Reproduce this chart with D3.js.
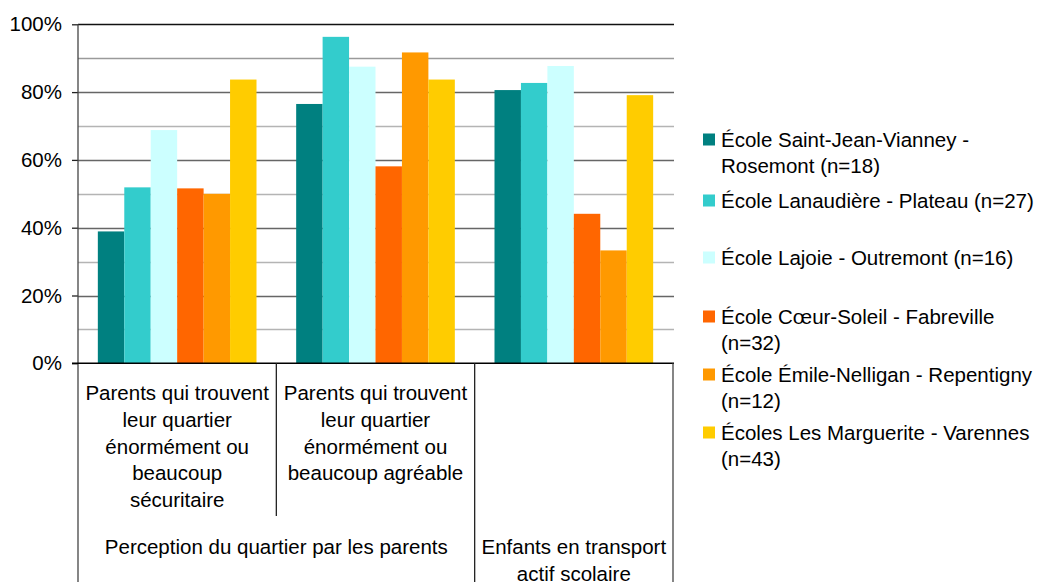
<!DOCTYPE html>
<html>
<head>
<meta charset="utf-8">
<script src="https://cdn.jsdelivr.net/npm/d3@7"></script>
<style>
  html, body { margin: 0; padding: 0; background: #fff; }
  svg { display: block; }
  text { font-family: "Liberation Sans", Arial, sans-serif; fill: #000; }
</style>
</head>
<body>
<svg id="chart" width="1042" height="582"></svg>
<script>
// Schools (series) and their legend text, wrapped as displayed
const schools = [
  "École Saint-Jean-Vianney - Rosemont (n=18)",
  "École Lanaudière - Plateau (n=27)",
  "École Lajoie - Outremont (n=16)",
  "École Cœur-Soleil - Fabreville (n=32)",
  "École Émile-Nelligan - Repentigny (n=12)",
  "Écoles Les Marguerite - Varennes (n=43)"
];
const legendLines = [
  ["École Saint-Jean-Vianney -", "Rosemont (n=18)"],
  ["École Lanaudière - Plateau (n=27)"],
  ["École Lajoie - Outremont (n=16)"],
  ["École Cœur-Soleil - Fabreville", "(n=32)"],
  ["École Émile-Nelligan - Repentigny", "(n=12)"],
  ["Écoles Les Marguerite - Varennes", "(n=43)"]
];
const colors = ["#008080", "#33CCCC", "#CCFFFF", "#FF6600", "#FF9900", "#FFCC00"];

// Categories on the x axis
const categories = ["securitaire", "agreable", "transport"];
const categoryLines = [
  ["Parents qui trouvent", "leur quartier", "énormément ou", "beaucoup", "sécuritaire"],
  ["Parents qui trouvent", "leur quartier", "énormément ou", "beaucoup agréable"],
  []
];
// Second-level grouping of the categories
const groupLines = [
  ["Perception du quartier par les parents"],
  ["Enfants en transport", "actif scolaire"]
];
const groupSpans = [[0, 1], [2, 2]];

// Share of respondents (0–1), one array per category, in school order
const securitaire = [0.389, 0.519, 0.688, 0.516, 0.500, 0.837];
const agreable    = [0.765, 0.963, 0.875, 0.581, 0.917, 0.837];
const transport   = [0.806, 0.827, 0.877, 0.441, 0.333, 0.791];
const seriesByCategory = [securitaire, agreable, transport];

const yTicks = [0, 0.2, 0.4, 0.6, 0.8, 1.0];
const yMinor = [0.1, 0.3, 0.5, 0.7, 0.9];

const svg = d3.select("#chart");
const plot = { left: 78, right: 673, top: 24.3, bottom: 363.3 };
const FS = 20.5;

const x0 = d3.scaleBand().domain(categories).range([plot.left, plot.right]).padding(0);
const x1 = d3.scaleBand().domain(d3.range(schools.length))
  .range([0, x0.bandwidth()]).paddingInner(0).paddingOuter(0.75);
const y = d3.scaleLinear().domain([0, 1]).range([plot.bottom, plot.top]);

// Minor gridlines
svg.append("g").selectAll("line").data(yMinor).join("line")
  .attr("x1", plot.left).attr("x2", plot.right + 1)
  .attr("y1", d => Math.round(y(d)) + 0.5).attr("y2", d => Math.round(y(d)) + 0.5)
  .attr("stroke", d => d === 0.9 ? "#9a9a9a" : "#b4b4b4").attr("stroke-width", 1.3);

// Major gridlines
svg.append("g").selectAll("line").data(yTicks.filter(d => d > 0)).join("line")
  .attr("x1", plot.left).attr("x2", plot.right + 1)
  .attr("y1", d => Math.round(y(d)) + 0.5).attr("y2", d => Math.round(y(d)) + 0.5)
  .attr("stroke", d => d === 1 ? "#111" : "#666").attr("stroke-width", 1.3);

// Bars
const groups = svg.append("g").selectAll("g").data(categories).join("g")
  .attr("transform", d => `translate(${x0(d)},0)`);
groups.selectAll("rect")
  .data((d, i) => seriesByCategory[i].map((v, j) => ({ v, j })))
  .join("rect")
  .attr("x", d => x1(d.j))
  .attr("width", x1.bandwidth())
  .attr("y", d => y(d.v))
  .attr("height", d => y(0) - y(d.v))
  .attr("fill", d => colors[d.j]);

// Y axis
const yAxis = d3.axisLeft(y).tickValues(yTicks).tickFormat(d3.format(".0%"))
  .tickSize(6).tickPadding(10);
const gy = svg.append("g").attr("transform", `translate(${plot.left},0)`).call(yAxis);
gy.select(".domain").remove();
gy.selectAll(".tick line").attr("stroke", "#222").attr("stroke-width", 1.3);
gy.selectAll(".tick text").attr("font-size", FS).attr("font-family", "Liberation Sans, Arial, sans-serif");
svg.append("line").attr("x1", plot.left).attr("x2", plot.left)
  .attr("y1", plot.top).attr("y2", 582).attr("stroke", "#444").attr("stroke-width", 1.3);

// Baseline
svg.append("line").attr("x1", plot.left - 6).attr("x2", plot.right + 1)
  .attr("y1", plot.bottom).attr("y2", plot.bottom).attr("stroke", "#000").attr("stroke-width", 1.5);

// Category separators (first level stops above the group labels)
const lineH = 26.7;
const catTop = plot.bottom;
const catBottom = 516;
svg.append("g").selectAll("line").data(categories.slice(1)).join("line")
  .attr("x1", d => x0(d)).attr("x2", d => x0(d))
  .attr("y1", catTop).attr("y2", (d, i) => {
    const idx = i + 1;
    const splitsGroup = groupSpans.some(s => s[0] === idx);
    return splitsGroup ? 582 : catBottom;
  })
  .attr("stroke", "#222").attr("stroke-width", 1.3);
svg.append("line").attr("x1", plot.right).attr("x2", plot.right)
  .attr("y1", catTop).attr("y2", 582).attr("stroke", "#444").attr("stroke-width", 1.3);

// First-level category labels
categories.forEach((c, i) => {
  const cx = x0(c) + x0.bandwidth() / 2;
  const t = svg.append("text").attr("text-anchor", "middle").attr("font-size", FS);
  categoryLines[i].forEach((ln, k) => {
    t.append("tspan").attr("x", cx).attr("y", 393 + k * lineH).attr("dy", "0.35em").text(ln);
  });
});

// Second-level group labels
groupSpans.forEach((s, i) => {
  const a = x0(categories[s[0]]);
  const b = x0(categories[s[1]]) + x0.bandwidth();
  const cx = (a + b) / 2;
  const t = svg.append("text").attr("text-anchor", "middle").attr("font-size", FS);
  groupLines[i].forEach((ln, k) => {
    t.append("tspan").attr("x", cx).attr("y", 547 + k * lineH).attr("dy", "0.35em").text(ln);
  });
});

// Legend
const legendTop = [140, 201, 258, 317, 375, 433];
const legendLineH = 25.5;
const lg = svg.append("g");
schools.forEach((s, i) => {
  lg.append("rect").attr("x", 703).attr("y", legendTop[i] - 6.5)
    .attr("width", 12).attr("height", 12).attr("fill", colors[i]);
  const t = lg.append("text").attr("font-size", FS);
  legendLines[i].forEach((ln, k) => {
    t.append("tspan").attr("x", 721).attr("y", legendTop[i] + k * legendLineH).attr("dy", "0.35em").text(ln);
  });
});
</script>
</body>
</html>
